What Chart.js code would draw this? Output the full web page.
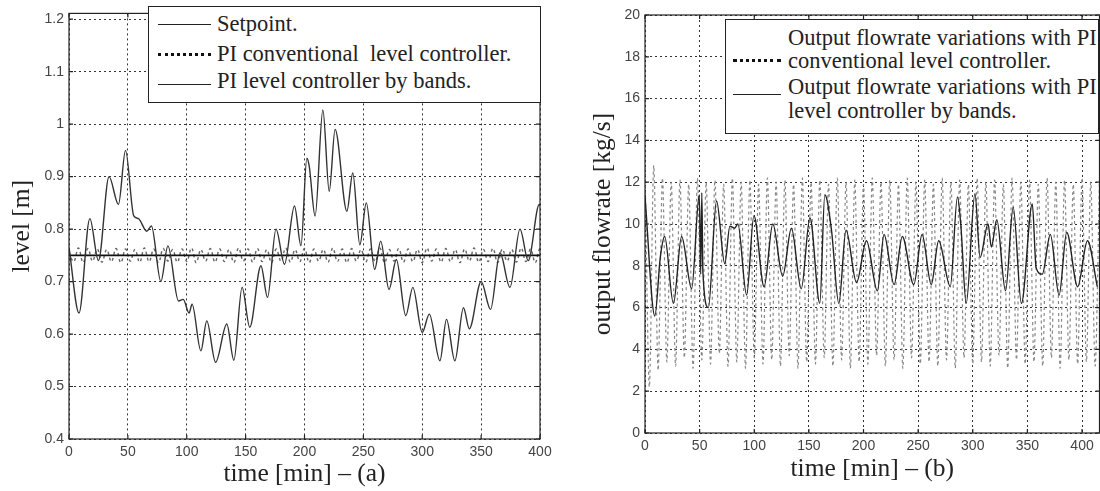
<!DOCTYPE html>
<html>
<head>
<meta charset="utf-8">
<script src="https://cdn.jsdelivr.net/npm/chart.js@4.4.1/dist/chart.umd.min.js"></script>
<style>
  html, body { margin: 0; padding: 0; background: #fff; }
  body { width: 1100px; height: 491px; overflow: hidden; position: relative; }
  canvas { position: absolute; top: 0; }
  #chart_level { left: 0; }
  #chart_flow { left: 580px; }
  .legend { position: absolute; background: #fff; border: 1.3px solid #222; box-sizing: border-box; z-index: 2; }
  .sample { position: absolute; height: 0; }
  .txt { position: absolute; font-family: "Liberation Serif", "DejaVu Serif", serif; font-size: 22.5px; color: #222; white-space: pre; line-height: 24px; }
</style>
</head>
<body>
<canvas id="chart_level" width="560" height="491"></canvas>
<canvas id="chart_flow" width="530" height="491"></canvas>

<div class="legend" style="left:148px; top:6px; width:393px; height:97px;"></div>
<div class="sample" style="left:158px; top:24px; width:53px; border-top:1.3px solid #222; z-index:3;"></div>
<div class="sample" style="left:158px; top:53px; width:53px; border-top:3px dotted #111; z-index:3;"></div>
<div class="sample" style="left:158px; top:84px; width:53px; border-top:1.3px solid #222; z-index:3;"></div>
<div class="txt" style="left:217px; top:12px; z-index:3;">Setpoint.</div>
<div class="txt" style="left:217px; top:42px; z-index:3;">PI conventional  level controller.</div>
<div class="txt" style="left:217px; top:69px; z-index:3;">PI level controller by bands.</div>

<div class="legend" style="left:725px; top:19px; width:374px; height:115px;"></div>
<div class="sample" style="left:733px; top:59px; width:48px; border-top:3px dotted #111; z-index:3;"></div>
<div class="sample" style="left:733px; top:94px; width:48px; border-top:1.3px solid #222; z-index:3;"></div>
<div class="txt" style="left:788px; top:26px; z-index:3;">Output flowrate variations with PI</div>
<div class="txt" style="left:788px; top:49px; z-index:3;">conventional level controller.</div>
<div class="txt" style="left:788px; top:75px; z-index:3;">Output flowrate variations with PI</div>
<div class="txt" style="left:788px; top:99px; z-index:3;">level controller by bands.</div>

<script>
// time axis ticks (both panels)
const timeTicks = [0, 50, 100, 150, 200, 250, 300, 350, 400];
const levelTicks = [0.4, 0.5, 0.6, 0.7, 0.8, 0.9, 1.0, 1.1, 1.2];
const levelTickLabels = ['0.4', '0.5', '0.6', '0.7', '0.8', '0.9', '1', '1.1', '1.2'];
const flowTicks = [0, 2, 4, 6, 8, 10, 12, 14, 16, 18, 20];

// (a) level
const setpointTime = [0, 400];
const setpointLevel = [0.75, 0.75];

const convTime = [0, 4, 8, 12, 16, 20, 24, 28, 32, 36, 40, 44, 48, 52, 56, 60, 64, 68, 72, 76,
  80, 84, 88, 92, 96, 100, 104, 108, 112, 116, 120, 124, 128, 132, 136, 140, 144, 148, 152, 156,
  160, 164, 168, 172, 176, 180, 184, 188, 192, 196, 200, 204, 208, 212, 216, 220, 224, 228, 232, 236,
  240, 244, 248, 252, 256, 260, 264, 268, 272, 276, 280, 284, 288, 292, 296, 300, 304, 308, 312, 316,
  320, 324, 328, 332, 336, 340, 344, 348, 352, 356, 360, 364, 368, 372, 376, 380, 384, 388, 392, 396,
  400, 404, 408, 412, 416];

const convLevel = [0.756, 0.738, 0.764, 0.736, 0.763, 0.739, 0.762, 0.737, 0.761, 0.738,
  0.763, 0.736, 0.762, 0.739, 0.761, 0.737, 0.764, 0.738, 0.762, 0.736,
  0.763, 0.739, 0.761, 0.737, 0.762, 0.738, 0.764, 0.736, 0.761, 0.739,
  0.763, 0.737, 0.762, 0.738, 0.761, 0.736, 0.764, 0.739, 0.762, 0.737,
  0.763, 0.738, 0.761, 0.736, 0.762, 0.739, 0.764, 0.737, 0.761, 0.738,
  0.763, 0.736, 0.762, 0.739, 0.761, 0.737, 0.764, 0.738, 0.762, 0.736,
  0.763, 0.739, 0.761, 0.737, 0.762, 0.738, 0.764, 0.736, 0.761, 0.739,
  0.763, 0.737, 0.762, 0.738, 0.761, 0.736, 0.764, 0.739, 0.762, 0.737,
  0.763, 0.738, 0.761, 0.736, 0.762, 0.739, 0.764, 0.737, 0.761, 0.738,
  0.763, 0.736, 0.762, 0.739, 0.761, 0.737, 0.764, 0.738, 0.762, 0.736,
  0.763, 0.739, 0.761, 0.737, 0.762];

const bandsTime = [0, 8.5, 17.7, 25, 34, 42, 48, 55, 59, 66, 70, 78, 84, 93, 97, 102, 104.5, 112, 117, 124.5,
  134, 140, 147, 153.5, 163, 168.6, 175.8, 183, 191.5, 197, 202, 204, 209, 215.6, 221, 226, 236, 241, 247, 252.5,
  259.6, 264.7, 271.8, 278, 286, 292, 300, 306, 315, 320.6, 327.7, 335, 340, 350, 358, 366, 374.5, 383, 390, 399.4, 400];
const bandsLevel = [0.765, 0.64, 0.82, 0.74, 0.90, 0.847, 0.95, 0.825, 0.82, 0.796, 0.806, 0.70, 0.768, 0.663, 0.666, 0.64, 0.657, 0.568, 0.625, 0.546,
  0.619, 0.55, 0.689, 0.613, 0.73, 0.67, 0.80, 0.733, 0.844, 0.768, 0.935, 0.92, 0.825, 1.027, 0.872, 0.99, 0.834, 0.907, 0.77, 0.85,
  0.723, 0.777, 0.685, 0.742, 0.635, 0.689, 0.603, 0.638, 0.549, 0.628, 0.549, 0.65, 0.61, 0.70, 0.647, 0.755, 0.689, 0.80, 0.74, 0.847, 0.845];

// (b) output flowrate
const convFlow = [12.7, 2.2, 12.8, 3.0, 12.2, 3.4, 12.0, 3.2, 12.1, 3.6,
  11.9, 3.1, 12.2, 3.5, 12.0, 3.3, 12.1, 3.8, 11.9, 3.2,
  12.2, 3.4, 12.0, 3.1, 12.1, 3.6, 11.9, 3.3, 12.2, 3.5,
  12.0, 3.2, 12.1, 3.7, 11.9, 3.1, 12.2, 3.4, 12.0, 3.3,
  12.1, 3.6, 11.9, 3.2, 12.2, 3.5, 12.0, 3.1, 12.1, 3.4,
  11.9, 3.3, 12.2, 3.7, 12.0, 3.2, 12.1, 3.5, 11.9, 3.1,
  12.2, 3.6, 12.0, 3.3, 12.1, 3.4, 11.9, 3.2, 12.2, 3.5,
  12.0, 3.1, 12.1, 3.6, 11.9, 3.3, 12.2, 3.4, 12.0, 3.2,
  12.1, 3.7, 11.9, 3.1, 12.2, 3.5, 12.0, 3.3, 12.1, 3.4,
  11.9, 3.2, 12.2, 3.6, 12.0, 3.1, 12.1, 3.5, 11.9, 3.3,
  12.2, 3.4, 12.0, 3.2, 12.1];

const bandsFlowTime = [0, 9, 14, 18, 26, 33.5, 42.7, 49.7, 51, 52, 53, 58, 65.5, 73, 77.7, 82, 85, 93, 99.7, 109,
  117, 126, 134, 143, 151, 160, 164.6, 170.7, 177.4, 184, 193.6, 202.7, 212.7, 218.8, 228, 235.5, 246, 253.6, 262, 268.8,
  279.4, 286, 289, 294, 302, 306.7, 314, 317, 322, 330, 337, 344.5, 354.5, 358, 363.6, 371, 379, 386, 396, 405, 414];
const bandsFlow = [11.3, 5.6, 8.4, 9.4, 6.2, 9.4, 6.9, 11.4, 7.6, 11.5, 7.7, 6.0, 11.1, 8.1, 9.9, 9.8, 10, 6.6, 10.4, 7.0,
  10, 7.5, 9.8, 6.9, 10.3, 6.2, 11.4, 9.7, 6.2, 9.7, 7.2, 9.2, 6.8, 9.5, 7.1, 9.4, 7.1, 9.5, 7.1, 9.2,
  7.0, 11.3, 10, 6.2, 11.45, 8.4, 10, 8.9, 10.2, 6.8, 10.8, 6.2, 10.96, 7.9, 7.6, 9.5, 6.6, 9.6, 7.0, 9.2, 7.0];

const pts = (t, v) => t.map((x, i) => ({ x: x, y: v[i] }));

const tickFont = { family: '"Liberation Sans", Arial, sans-serif', size: 14 };
const titleFont = { family: '"Liberation Serif", "Times New Roman", serif', size: 25.5, lineHeight: 1.2 };

// box round the plot and small inward ticks, like matlab
const frame = {
    id: 'frame',
    afterDatasetsDraw(chart) {
        const { ctx, chartArea: a, scales: { x, y } } = chart;
        ctx.save();
        ctx.strokeStyle = '#222';
        ctx.lineWidth = 1.2;
        ctx.strokeRect(a.left, a.top, a.right - a.left, a.bottom - a.top);
        ctx.beginPath();
        x.ticks.forEach(t => {
            const px = x.getPixelForValue(t.value);
            ctx.moveTo(px, a.bottom); ctx.lineTo(px, a.bottom - 4);
            ctx.moveTo(px, a.top); ctx.lineTo(px, a.top + 4);
        });
        y.ticks.forEach(t => {
            const py = y.getPixelForValue(t.value);
            ctx.moveTo(a.left, py); ctx.lineTo(a.left + 4, py);
            ctx.moveTo(a.right, py); ctx.lineTo(a.right - 4, py);
        });
        ctx.stroke();
        ctx.restore();
    }
};

const gridOpts = { color: '#333', lineWidth: 1, drawTicks: false };
const gridBorder = { display: false, dash: [2, 3] };

function makeOptions(cfg) {
    return {
        responsive: false,
        animation: false,
        layout: { padding: cfg.padding },
        plugins: { legend: { display: false }, tooltip: { enabled: false } },
        elements: { point: { radius: 0 } },
        scales: {
            x: {
                type: 'linear', min: 0, max: cfg.xMax,
                grid: gridOpts, border: gridBorder,
                afterBuildTicks: s => { s.ticks = timeTicks.map(v => ({ value: v })); },
                afterFit: s => { s.height = cfg.xHeight; },
                ticks: { font: tickFont, color: '#444', padding: 5, maxRotation: 0, callback: v => String(v) },
                title: { display: true, text: cfg.xTitle, font: titleFont, color: '#222', padding: { top: 0, bottom: cfg.xTitlePad } }
            },
            y: {
                type: 'linear', min: cfg.yMin, max: cfg.yMax,
                grid: gridOpts, border: gridBorder,
                afterBuildTicks: s => { s.ticks = cfg.yTicks.map(v => ({ value: v })); },
                afterFit: s => { s.width = cfg.yWidth; },
                ticks: { font: tickFont, color: '#444', padding: 5, callback: cfg.yLabel },
                title: { display: true, text: cfg.yTitle, font: titleFont, color: '#222', padding: { top: cfg.yTitlePad, bottom: 0 } }
            }
        }
    };
}

new Chart(document.getElementById('chart_level'), {
    type: 'line',
    data: {
        datasets: [
            { data: pts(bandsTime, bandsLevel), borderColor: '#333', borderWidth: 1.4, cubicInterpolationMode: 'monotone', order: 0 },
            { data: pts(setpointTime, setpointLevel), borderColor: '#111', borderWidth: 1.6, order: 1 },
            { data: pts(convTime, convLevel), borderColor: '#666', borderWidth: 1.4, borderDash: [3, 3], tension: 0.4, order: 2 }
        ]
    },
    options: makeOptions({
        padding: { left: 0, right: 20, top: 9, bottom: 0 },
        xMax: 400, xHeight: 52, xTitle: 'time [min] \u2013 (a)', xTitlePad: 1.7,
        yMin: 0.4, yMax: 1.211, yTicks: levelTicks, yWidth: 69,
        yLabel: (v, i) => levelTickLabels[i],
        yTitle: 'level [m]', yTitlePad: 6.7
    }),
    plugins: [frame]
});

new Chart(document.getElementById('chart_flow'), {
    type: 'line',
    data: {
        datasets: [
            { data: pts(bandsFlowTime, bandsFlow), borderColor: '#222', borderWidth: 1.4, cubicInterpolationMode: 'monotone', order: 0 },
            { data: pts(convTime, convFlow), borderColor: '#888', borderWidth: 1.2, borderDash: [3, 3], tension: 0.3, order: 1 }
        ]
    },
    options: makeOptions({
        padding: { left: 0, right: 10.5, top: 15, bottom: 0 },
        xMax: 416, xHeight: 58, xTitle: 'time [min] \u2013 (b)', xTitlePad: 6.7,
        yMin: 0, yMax: 20, yTicks: flowTicks, yWidth: 65,
        yLabel: v => String(v),
        yTitle: 'output flowrate [kg/s]', yTitlePad: 7.7
    }),
    plugins: [frame]
});
</script>
</body>
</html>
